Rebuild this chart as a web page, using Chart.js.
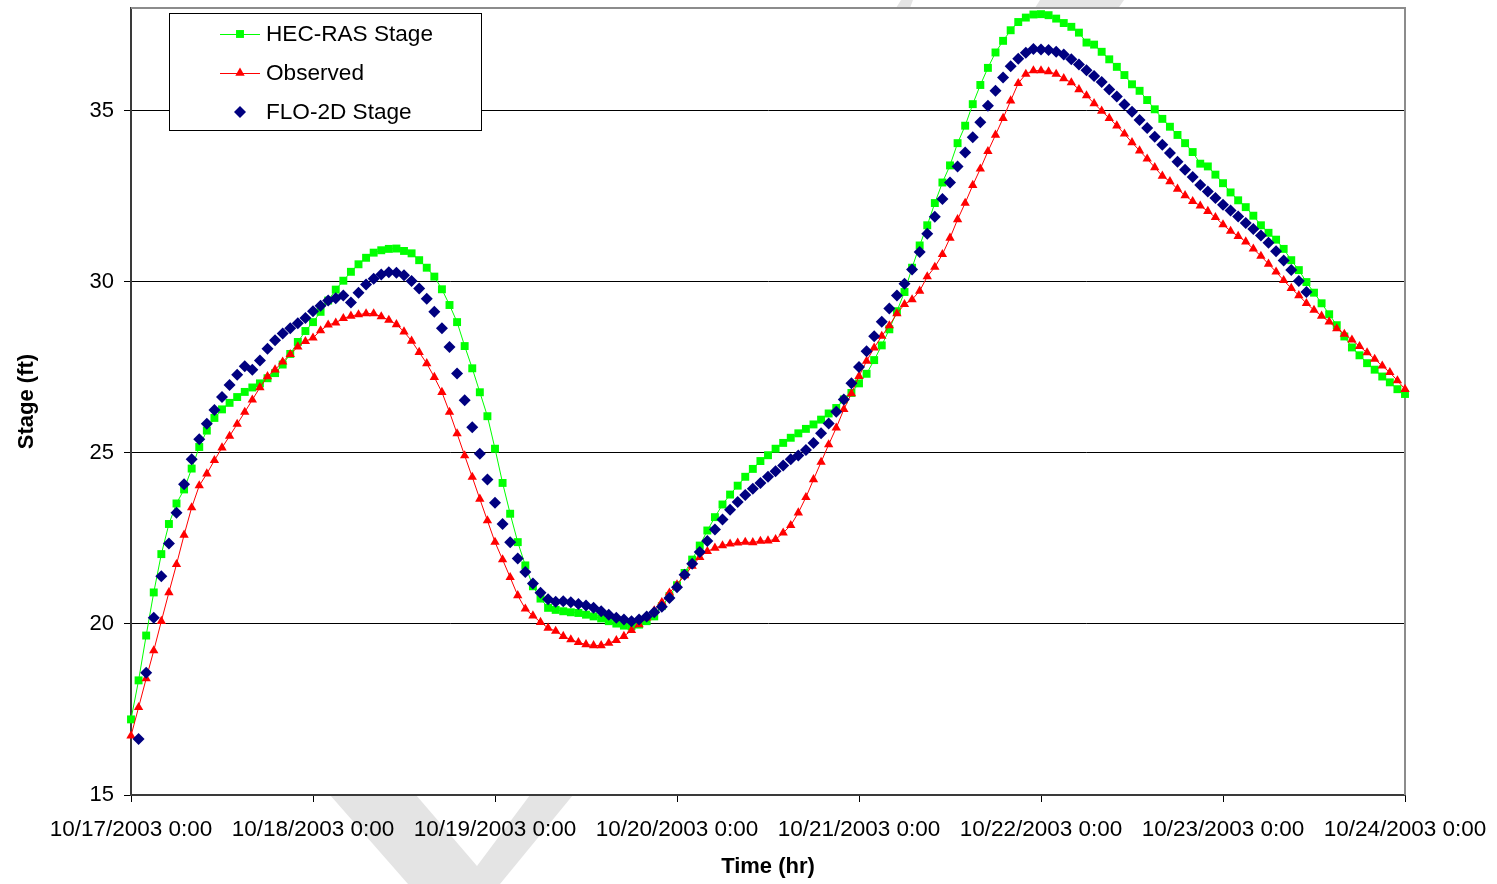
<!DOCTYPE html>
<html>
<head>
<meta charset="utf-8">
<title>Stage comparison</title>
<script src="https://cdn.jsdelivr.net/npm/chart.js@4.4.1/dist/chart.umd.min.js"></script>
<style>
    html, body { margin: 0; padding: 0; background: #fff; }
    canvas { display: block; }
</style>
</head>
<body>
<canvas id="stageChart" width="1497" height="884"></canvas>
<script>
// Tick labels and positions (hours since 10/17/2003 0:00)
const xTickHours = [0, 24, 48, 72, 96, 120, 144, 168];
const xTickLabels = ['10/17/2003 0:00', '10/18/2003 0:00', '10/19/2003 0:00', '10/20/2003 0:00',
    '10/21/2003 0:00', '10/22/2003 0:00', '10/23/2003 0:00', '10/24/2003 0:00'];
const yTickValues = [15, 20, 25, 30, 35];

// Hourly stage values (ft)
const hecStartHour = 0;
const hecStage = [
    17.21, 18.35, 19.66, 20.92, 22.04, 22.92, 23.52, 23.93, 24.54, 25.17, 25.65, 26.02,
    26.27, 26.46, 26.63, 26.78, 26.91, 27.03, 27.18, 27.33, 27.58, 27.89, 28.24, 28.56,
    28.82, 29.12, 29.45, 29.77, 30.03, 30.29, 30.51, 30.70, 30.85, 30.92, 30.96, 30.97,
    30.90, 30.83, 30.63, 30.41, 30.15, 29.78, 29.32, 28.82, 28.12, 27.47, 26.77, 26.07,
    25.12, 24.12, 23.22, 22.39, 21.71, 21.10, 20.74, 20.47, 20.41, 20.37, 20.34, 20.32,
    20.27, 20.22, 20.16, 20.08, 20.01, 19.95, 19.93, 19.98, 20.08, 20.22, 20.52, 20.81,
    21.13, 21.49, 21.88, 22.29, 22.73, 23.12, 23.49, 23.78, 24.04, 24.30, 24.53, 24.76,
    24.93, 25.12, 25.29, 25.44, 25.57, 25.70, 25.83, 25.97, 26.15, 26.31, 26.56, 26.75,
    27.03, 27.31, 27.71, 28.14, 28.61, 29.14, 29.70, 30.41, 31.06, 31.65, 32.30, 32.90,
    33.40, 34.05, 34.56, 35.19, 35.75, 36.25, 36.70, 37.04, 37.35, 37.59, 37.72, 37.81,
    37.82, 37.79, 37.69, 37.56, 37.45, 37.28, 36.99, 36.93, 36.72, 36.50, 36.28, 36.04,
    35.77, 35.58, 35.31, 35.04, 34.76, 34.53, 34.29, 34.05, 33.79, 33.45, 33.37, 33.13,
    32.88, 32.61, 32.38, 32.18, 31.93, 31.65, 31.43, 31.23, 30.96, 30.63, 30.34, 29.99,
    29.68, 29.37, 29.05, 28.73, 28.40, 28.08, 27.85, 27.62, 27.43, 27.23, 27.06, 26.86,
    26.72
];

const observedStartHour = 0;
const observedStage = [
    16.73, 17.56, 18.40, 19.22, 20.08, 20.92, 21.74, 22.60, 23.40, 24.04, 24.39, 24.78,
    25.15, 25.49, 25.84, 26.19, 26.55, 26.91, 27.23, 27.43, 27.66, 27.88, 28.10, 28.26,
    28.36, 28.57, 28.74, 28.80, 28.93, 29.00, 29.04, 29.07, 29.07, 28.98, 28.88, 28.75,
    28.54, 28.27, 27.94, 27.61, 27.21, 26.77, 26.19, 25.56, 24.92, 24.29, 23.65, 23.02,
    22.39, 21.88, 21.36, 20.83, 20.44, 20.24, 20.05, 19.88, 19.79, 19.64, 19.54, 19.46,
    19.40, 19.37, 19.37, 19.44, 19.52, 19.64, 19.81, 19.98, 20.18, 20.39, 20.63, 20.91,
    21.15, 21.41, 21.69, 21.95, 22.12, 22.22, 22.29, 22.34, 22.37, 22.39, 22.38, 22.42,
    22.43, 22.47, 22.66, 22.88, 23.25, 23.70, 24.22, 24.73, 25.24, 25.73, 26.27, 26.73,
    27.24, 27.68, 28.07, 28.41, 28.72, 29.07, 29.34, 29.48, 29.73, 30.15, 30.43, 30.80,
    31.28, 31.82, 32.30, 32.82, 33.30, 33.81, 34.29, 34.78, 35.29, 35.80, 36.07, 36.17,
    36.17, 36.14, 36.07, 35.94, 35.82, 35.62, 35.44, 35.21, 34.99, 34.78, 34.56, 34.32,
    34.07, 33.83, 33.59, 33.34, 33.09, 32.93, 32.71, 32.52, 32.35, 32.22, 32.06, 31.88,
    31.67, 31.48, 31.33, 31.17, 30.96, 30.75, 30.52, 30.29, 30.04, 29.81, 29.60, 29.37,
    29.17, 29.00, 28.83, 28.63, 28.47, 28.30, 28.11, 27.93, 27.74, 27.54, 27.35, 27.11,
    26.86
];

const floStartHour = 1;
const floStage = [
    16.64, 18.57, 20.18, 21.39, 22.35, 23.25, 24.08, 24.81, 25.40, 25.85, 26.25, 26.63,
    26.98, 27.28, 27.53, 27.43, 27.70, 28.04, 28.29, 28.49, 28.64, 28.79, 28.94, 29.14,
    29.30, 29.45, 29.52, 29.60, 29.39, 29.68, 29.92, 30.09, 30.21, 30.28, 30.26, 30.19,
    30.02, 29.80, 29.50, 29.12, 28.64, 28.09, 27.32, 26.54, 25.75, 24.97, 24.22, 23.54,
    22.92, 22.39, 21.91, 21.52, 21.18, 20.91, 20.72, 20.65, 20.66, 20.63, 20.58, 20.54,
    20.47, 20.37, 20.27, 20.18, 20.13, 20.08, 20.13, 20.22, 20.34, 20.50, 20.76, 21.07,
    21.44, 21.76, 22.10, 22.42, 22.76, 23.05, 23.34, 23.56, 23.77, 23.95, 24.12, 24.30,
    24.46, 24.63, 24.81, 24.92, 25.08, 25.29, 25.57, 25.86, 26.20, 26.56, 27.03, 27.51,
    27.97, 28.41, 28.83, 29.22, 29.60, 29.94, 30.36, 30.87, 31.40, 31.90, 32.42, 32.90,
    33.37, 33.78, 34.22, 34.66, 35.14, 35.58, 35.97, 36.30, 36.52, 36.69, 36.80, 36.79,
    36.77, 36.72, 36.64, 36.50, 36.35, 36.18, 36.01, 35.84, 35.62, 35.41, 35.18, 34.97,
    34.73, 34.49, 34.24, 34.00, 33.76, 33.51, 33.27, 33.06, 32.83, 32.64, 32.45, 32.25,
    32.08, 31.91, 31.72, 31.54, 31.35, 31.14, 30.89, 30.62, 30.34, 30.02, 29.70
];

const FONT = '"Liberation Sans", Arial, sans-serif';

document.addEventListener('DOMContentLoaded', function() {
    initializeStageChart();
});

// Turn an hourly array into {x, y} points
function toPoints(values, startHour) {
    return values.map((v, i) => ({ x: startHour + i, y: v }));
}

// Draw one legend marker like Chart.js point styles
function drawMarker(ctx, ds, x, y) {
    const r = ds.pointRadius;
    ctx.fillStyle = ds.pointBackgroundColor;
    ctx.beginPath();
    if (ds.pointStyle === 'rect') {
        const s = Math.SQRT1_2 * r;
        ctx.rect(x - s, y - s, 2 * s, 2 * s);
    } else if (ds.pointStyle === 'triangle') {
        ctx.moveTo(x, y - r);
        ctx.lineTo(x + r * Math.sin(2 * Math.PI / 3), y - r * Math.cos(2 * Math.PI / 3));
        ctx.lineTo(x + r * Math.sin(4 * Math.PI / 3), y - r * Math.cos(4 * Math.PI / 3));
    } else {
        ctx.moveTo(x - r, y);
        ctx.lineTo(x, y - r);
        ctx.lineTo(x + r, y);
        ctx.lineTo(x, y + r);
    }
    ctx.closePath();
    ctx.fill();
}

// Background with the faint grey watermark and white plot area
const backgroundPlugin = {
    id: 'background',
    beforeDraw(chart) {
        const ctx = chart.ctx;
        const area = chart.chartArea;
        ctx.save();
        ctx.fillStyle = '#fff';
        ctx.fillRect(0, 0, chart.width, chart.height);
        ctx.fillStyle = '#e4e4e4';
        ctx.beginPath();
        ctx.moveTo(1040, 0);
        ctx.lineTo(1124, 0);
        ctx.lineTo(573, 795);
        ctx.lineTo(500, 884);
        ctx.lineTo(408, 884);
        ctx.lineTo(330, 795);
        ctx.lineTo(300, 700);
        ctx.lineTo(400, 700);
        ctx.lineTo(416, 795);
        ctx.lineTo(477, 866);
        ctx.lineTo(530, 795);
        ctx.closePath();
        ctx.fill();
        ctx.beginPath();
        ctx.moveTo(896, 8);
        ctx.lineTo(901, 0);
        ctx.lineTo(913, 0);
        ctx.lineTo(910, 8);
        ctx.closePath();
        ctx.fill();
        ctx.fillStyle = '#fff';
        ctx.fillRect(area.left, area.top, area.right - area.left, area.bottom - area.top);
        ctx.restore();
    },
    beforeDatasetsDraw(chart) {
        // grey frame on the top and right of the plot
        const ctx = chart.ctx;
        const area = chart.chartArea;
        ctx.save();
        ctx.strokeStyle = '#8c8c8c';
        ctx.lineWidth = 2;
        ctx.beginPath();
        ctx.moveTo(area.left, area.top);
        ctx.lineTo(area.right, area.top);
        ctx.lineTo(area.right, area.bottom);
        ctx.stroke();
        ctx.restore();
    }
};

// Boxed legend inside the plot, top left
const boxLegendPlugin = {
    id: 'boxLegend',
    afterDraw(chart) {
        const ctx = chart.ctx;
        const area = chart.chartArea;
        const bx = area.left + 38;
        const by = area.top + 5;
        ctx.save();
        ctx.fillStyle = '#fff';
        ctx.fillRect(bx, by, 312, 117);
        ctx.strokeStyle = '#000';
        ctx.lineWidth = 1;
        ctx.strokeRect(bx + 0.5, by + 0.5, 312, 117);
        ctx.font = '22.6px ' + FONT;
        ctx.textBaseline = 'middle';
        chart.data.datasets.forEach((ds, i) => {
            const y = by + 21 + i * 39;
            if (ds.showLine !== false) {
                ctx.strokeStyle = ds.borderColor;
                ctx.lineWidth = ds.borderWidth;
                ctx.beginPath();
                ctx.moveTo(bx + 51, y + 0.5);
                ctx.lineTo(bx + 91, y + 0.5);
                ctx.stroke();
            }
            drawMarker(ctx, ds, bx + 71, y);
            ctx.fillStyle = '#000';
            ctx.fillText(ds.label, bx + 97, y + 1);
        });
        ctx.restore();
    }
};

function initializeStageChart() {
    const ctx = document.getElementById('stageChart').getContext('2d');
    new Chart(ctx, {
        type: 'line',
        data: {
            datasets: [{
                label: 'HEC-RAS Stage',
                data: toPoints(hecStage, hecStartHour),
                borderColor: '#00ff00',
                borderWidth: 1,
                pointStyle: 'rect',
                pointRadius: 5.6,
                pointBackgroundColor: '#00ff00',
                pointBorderWidth: 0,
                order: 3
            }, {
                label: 'Observed',
                data: toPoints(observedStage, observedStartHour),
                borderColor: '#ff0000',
                borderWidth: 1,
                pointStyle: 'triangle',
                pointRadius: 5.4,
                pointBackgroundColor: '#ff0000',
                pointBorderWidth: 0,
                order: 2
            }, {
                label: 'FLO-2D Stage',
                data: toPoints(floStage, floStartHour),
                showLine: false,
                borderColor: '#000080',
                borderWidth: 0,
                pointStyle: 'rectRot',
                pointRadius: 6,
                pointBackgroundColor: '#000080',
                pointBorderWidth: 0,
                order: 1
            }]
        },
        options: {
            responsive: false,
            animation: false,
            clip: false,
            layout: { padding: { left: 0, right: 92, top: 8, bottom: 0 } },
            elements: { line: { tension: 0 } },
            plugins: {
                legend: { display: false },
                tooltip: { enabled: false }
            },
            scales: {
                x: {
                    type: 'linear',
                    min: 0,
                    max: 168,
                    afterBuildTicks: (scale) => { scale.ticks = xTickHours.map(v => ({ value: v })); },
                    afterFit: (scale) => { scale.height = 89; scale.paddingLeft = 0; scale.paddingRight = 0; },
                    ticks: {
                        autoSkip: false,
                        maxRotation: 0,
                        color: '#000',
                        padding: 14,
                        font: { family: FONT, size: 22.5 },
                        callback: (value) => xTickLabels[xTickHours.indexOf(value)]
                    },
                    grid: { drawOnChartArea: false, drawTicks: true, tickLength: 7, color: '#000' },
                    border: { display: true, color: '#3a3a3a', width: 2 },
                    title: {
                        display: true,
                        text: 'Time (hr)',
                        color: '#000',
                        font: { family: FONT, size: 22, weight: 'bold' },
                        padding: { top: 0, bottom: 4 }
                    }
                },
                y: {
                    type: 'linear',
                    min: 15,
                    max: 38,
                    afterBuildTicks: (scale) => { scale.ticks = yTickValues.map(v => ({ value: v })); },
                    afterFit: (scale) => { scale.width = 131; scale.paddingTop = 0; scale.paddingBottom = 0; },
                    ticks: {
                        color: '#000',
                        padding: 10,
                        font: { family: FONT, size: 22 }
                    },
                    grid: { color: '#000', lineWidth: 1, tickLength: 7 },
                    border: { display: true, color: '#3a3a3a', width: 2 },
                    title: {
                        display: true,
                        text: 'Stage (ft)',
                        color: '#000',
                        font: { family: FONT, size: 22, weight: 'bold' },
                        padding: { top: 14, bottom: 0 }
                    }
                }
            }
        },
        plugins: [backgroundPlugin, boxLegendPlugin]
    });
}
</script>
</body>
</html>
